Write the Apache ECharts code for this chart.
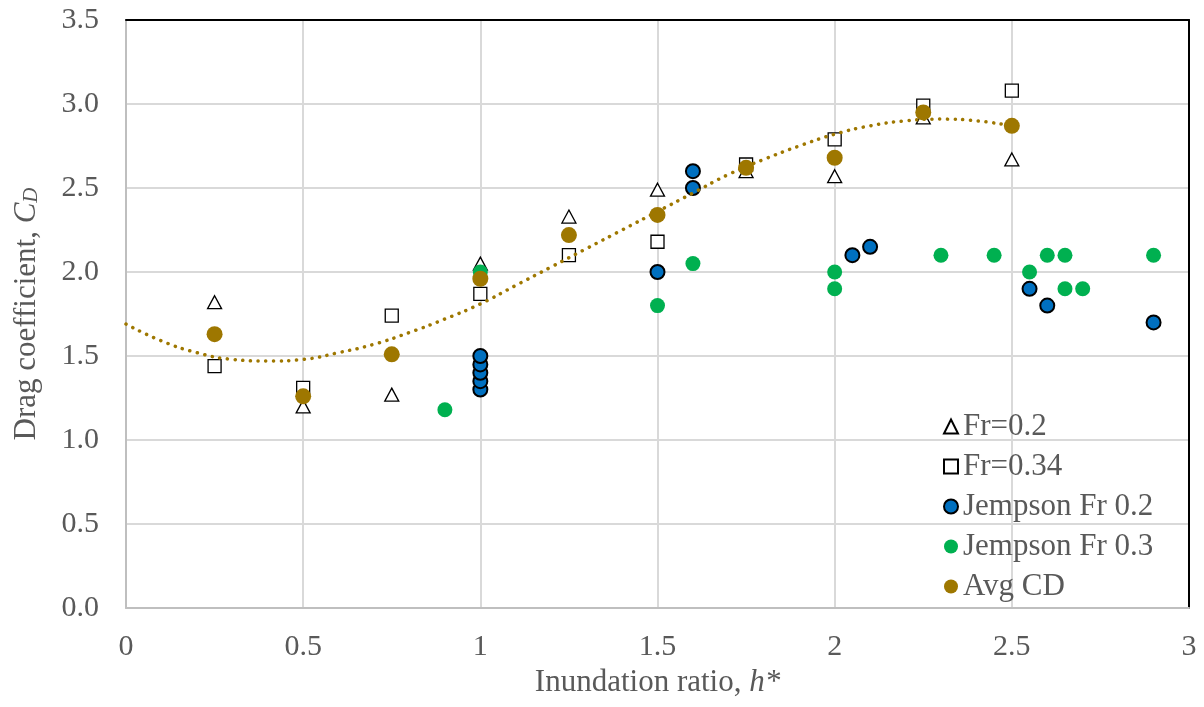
<!DOCTYPE html>
<html>
<head>
<meta charset="utf-8">
<title>Drag coefficient vs inundation ratio</title>
<script src="https://cdn.jsdelivr.net/npm/echarts@6/dist/echarts.min.js"></script>
<style>
  html, body { margin: 0; padding: 0; background: #fff; }
  #chart { width: 1204px; height: 707px; }
</style>
</head>
<body>
<div id="chart"></div>
<script>
// present study, both Froude numbers share the same h* values
var hStar = [0.25, 0.5, 0.75, 1, 1.25, 1.5, 1.75, 2, 2.25, 2.5];
var cdFr02 = [1.82, 1.2, 1.27, 2.05, 2.33, 2.49, 2.6, 2.57, 2.92, 2.67];
var cdFr034 = [1.44, 1.31, 1.74, 1.87, 2.1, 2.18, 2.64, 2.79, 2.99, 3.08];
var cdAvg = [1.63, 1.26, 1.51, 1.96, 2.22, 2.34, 2.62, 2.68, 2.95, 2.87];

// Jempson data
var jemp02X = [1, 1, 1, 1, 1, 1.5, 1.6, 1.6, 2.05, 2.1, 2.55, 2.6, 2.9];
var jemp02Y = [1.3, 1.35, 1.4, 1.45, 1.5, 2.0, 2.5, 2.6, 2.1, 2.15, 1.9, 1.8, 1.7];
var jemp03X = [0.9, 1, 1.5, 1.6, 2, 2, 2.3, 2.45, 2.55, 2.6, 2.65, 2.65, 2.7, 2.9];
var jemp03Y = [1.18, 2.0, 1.8, 2.05, 2.0, 1.9, 2.1, 2.1, 2.0, 2.1, 2.1, 1.9, 1.9, 2.1];

// dotted trend curve
var trendX = [0, 0.1, 0.2, 0.3, 0.4, 0.5, 0.6, 0.7, 0.8, 0.9, 1.0, 1.1, 1.2,
              1.3, 1.4, 1.5, 1.6, 1.7, 1.8, 1.9, 2.0, 2.1, 2.2, 2.3, 2.4, 2.5];
var trendY = [1.69, 1.59, 1.52, 1.48, 1.47, 1.48, 1.52, 1.57, 1.64, 1.72, 1.81, 1.92, 2.03,
              2.14, 2.25, 2.36, 2.47, 2.58, 2.67, 2.75, 2.82, 2.87, 2.90, 2.91, 2.90, 2.87];

var xTicks = ['0', '0.5', '1', '1.5', '2', '2.5', '3'];

function pairs(xs, ys) {
    var out = [];
    for (var i = 0; i < xs.length; i++) {
        out.push([xs[i], ys[i]]);
    }
    return out;
}

var FONT = '"Liberation Serif", "Times New Roman", serif';
var TXT = '#595959';

var myChart = echarts.init(document.getElementById('chart'));
var option = {
    animation: false,
    backgroundColor: '#fff',
    textStyle: { fontFamily: FONT },
    grid: { left: 126, top: 20, right: 15, bottom: 99 },
    legend: {
        orient: 'vertical',
        left: 938,
        top: 406,
        itemWidth: 14,
        itemHeight: 14,
        itemGap: 9,
        textStyle: { fontFamily: FONT, fontSize: 31, lineHeight: 31, color: TXT },
        data: ['Fr=0.2', 'Fr=0.34', 'Jempson Fr 0.2', 'Jempson Fr 0.3', 'Avg CD']
    },
    xAxis: [{
        type: 'value',
        min: 0,
        max: 3,
        interval: 0.5,
        name: 'Inundation ratio, {i|h*}',
        nameLocation: 'middle',
        nameGap: 52,
        nameTextStyle: {
            fontFamily: FONT, fontSize: 31, color: TXT,
            rich: { i: { fontFamily: FONT, fontSize: 31, fontStyle: 'italic', color: TXT } }
        },
        axisLine: { show: true, lineStyle: { color: '#BFBFBF', width: 2 } },
        axisTick: { show: false },
        axisLabel: {
            margin: 24, fontFamily: FONT, fontSize: 30, color: TXT,
            formatter: function (v) { return xTicks[Math.round(v * 2)]; }
        },
        splitLine: { show: true, lineStyle: { color: '#D9D9D9', width: 2 } }
    }, {
        type: 'value',
        position: 'top',
        min: 0,
        max: 3,
        axisLine: { show: true, onZero: false, lineStyle: { color: '#000', width: 2 } },
        axisTick: { show: false },
        axisLabel: { show: false },
        splitLine: { show: false }
    }],
    yAxis: [{
        type: 'value',
        min: 0,
        max: 3.5,
        interval: 0.5,
        name: 'Drag coefficient, {c|C}{d|D}',
        nameLocation: 'middle',
        nameGap: 84,
        nameRotate: 90,
        nameTextStyle: {
            fontFamily: FONT, fontSize: 31, color: TXT,
            rich: {
                c: { fontFamily: FONT, fontSize: 31, fontStyle: 'italic', color: TXT },
                d: { fontFamily: FONT, fontSize: 21, fontStyle: 'italic', color: TXT,
                     verticalAlign: 'bottom', padding: [10, 0, 0, 0] }
            }
        },
        axisLine: { show: true, lineStyle: { color: '#BFBFBF', width: 2 } },
        axisTick: { show: false },
        axisLabel: {
            margin: 27, fontFamily: FONT, fontSize: 30, color: TXT,
            formatter: function (v) { return v.toFixed(1); }
        },
        splitLine: { show: true, lineStyle: { color: '#D9D9D9', width: 2 } }
    }, {
        type: 'value',
        position: 'right',
        min: 0,
        max: 3.5,
        axisLine: { show: true, onZero: false, lineStyle: { color: '#000', width: 2 } },
        axisTick: { show: false },
        axisLabel: { show: false },
        splitLine: { show: false }
    }],
    series: [
        {
            name: 'Fr=0.2',
            type: 'scatter',
            symbol: 'triangle',
            symbolSize: [14, 13],
            itemStyle: { color: '#fff', borderColor: '#000', borderWidth: 1.3, opacity: 1 },
            data: pairs(hStar, cdFr02)
        },
        {
            name: 'Fr=0.34',
            type: 'scatter',
            symbol: 'rect',
            symbolSize: 13,
            itemStyle: { color: '#fff', borderColor: '#000', borderWidth: 1.3, opacity: 1 },
            data: pairs(hStar, cdFr034)
        },
        {
            name: 'Jempson Fr 0.2',
            type: 'scatter',
            symbol: 'circle',
            symbolSize: 14,
            itemStyle: { color: '#0070C0', borderColor: '#000', borderWidth: 2, opacity: 1 },
            data: pairs(jemp02X, jemp02Y)
        },
        {
            name: 'Jempson Fr 0.3',
            type: 'scatter',
            symbol: 'circle',
            symbolSize: 15,
            itemStyle: { color: '#00B050', opacity: 1 },
            data: pairs(jemp03X, jemp03Y)
        },
        {
            name: 'Avg CD',
            type: 'scatter',
            symbol: 'circle',
            symbolSize: 16,
            itemStyle: { color: '#9E7700', opacity: 1 },
            data: pairs(hStar, cdAvg)
        },
        {
            name: 'trend',
            type: 'line',
            smooth: true,
            symbol: 'none',
            silent: true,
            lineStyle: { color: '#9E7700', width: 3.5, type: [0.1, 7.6], cap: 'round' },
            data: pairs(trendX, trendY)
        }
    ]
};
myChart.setOption(option);
</script>
</body>
</html>
